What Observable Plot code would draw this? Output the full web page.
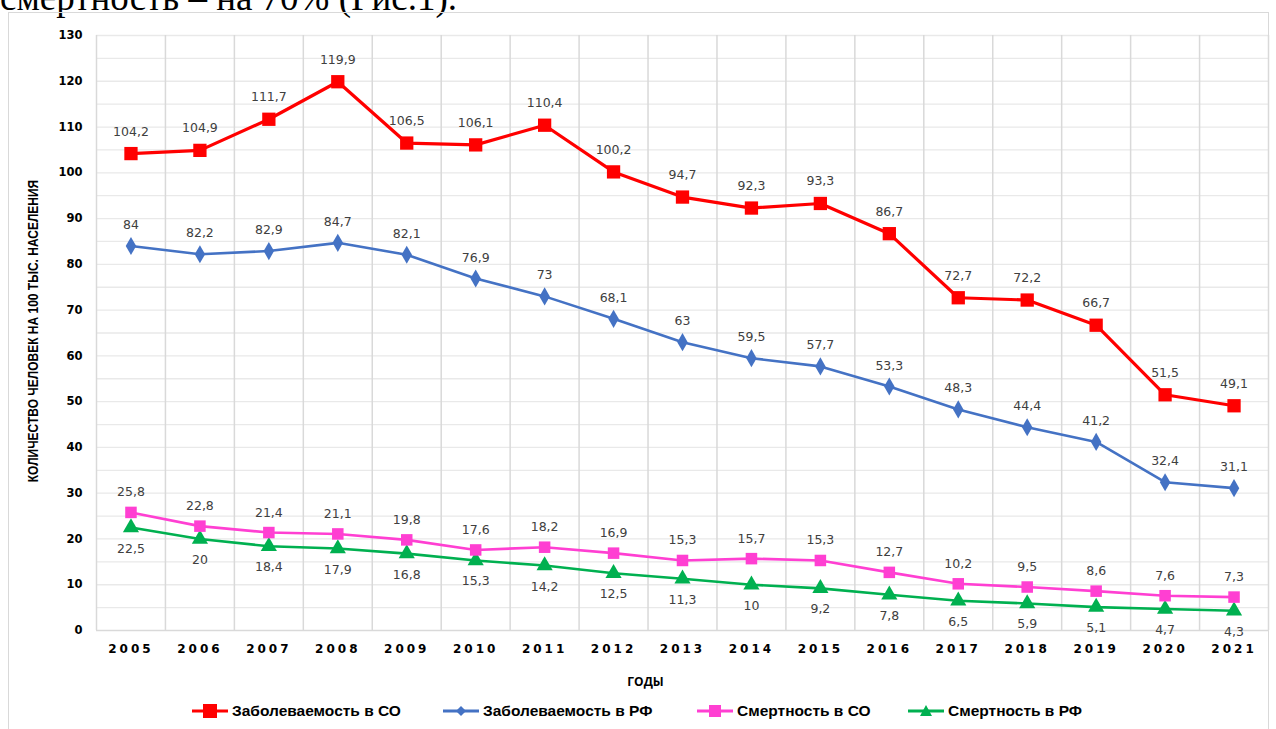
<!DOCTYPE html>
<html>
<head>
<meta charset="utf-8">
<script src="https://cdn.jsdelivr.net/npm/d3@7"></script>
<script src="https://cdn.jsdelivr.net/npm/@observablehq/plot@0.6"></script>
<style>
  html, body { margin: 0; padding: 0; background: #fff; width: 1276px; height: 729px; overflow: hidden; position: relative; }
  #doctext { position: absolute; left: 0; top: -21px; font-family: "Liberation Serif", serif; font-size: 37px; line-height: 37px; color: #000; white-space: nowrap; }
  #frame { position: absolute; left: 8px; top: 12px; width: 1261px; height: 740px; border: 1px solid #d9d9d9; box-sizing: border-box; }
  #chart { position: absolute; left: 0; top: 0; }
  #legend { position: absolute; top: 701px; left: 0; width: 1276px; height: 22px; font-family: "Liberation Sans", sans-serif; font-weight: bold; font-size: 15.5px; color: #000; }
  .item { position: absolute; top: 0; display: flex; align-items: center; height: 20px; }
  .item svg { margin-right: 4px; }
  .xticks text { letter-spacing: 3px; }
</style>
</head>
<body>
<div id="doctext">смертность – на 70% (Рис.1).</div>
<div id="frame"></div>
<div id="chart"></div>
<div id="legend"></div>
<script>
const years = [2005,2006,2007,2008,2009,2010,2011,2012,2013,2014,2015,2016,2017,2018,2019,2020,2021];
const incidenceSO = [104.2,104.9,111.7,119.9,106.5,106.1,110.4,100.2,94.7,92.3,93.3,86.7,72.7,72.2,66.7,51.5,49.1];
const incidenceRF = [84,82.2,82.9,84.7,82.1,76.9,73,68.1,63,59.5,57.7,53.3,48.3,44.4,41.2,32.4,31.1];
const mortalitySO = [25.8,22.8,21.4,21.1,19.8,17.6,18.2,16.9,15.3,15.7,15.3,12.7,10.2,9.5,8.6,7.6,7.3];
const mortalityRF = [22.5,20,18.4,17.9,16.8,15.3,14.2,12.5,11.3,10,9.2,7.8,6.5,5.9,5.1,4.7,4.3];
const seriesNames = ["Заболеваемость в СО","Заболеваемость в РФ","Смертность в СО","Смертность в РФ"];
const seriesColors = ["#ff0000","#4472c4","#ff3fd2","#00b050"];
const yTitle = "КОЛИЧЕСТВО ЧЕЛОВЕК НА 100 ТЫС. НАСЕЛЕНИЯ";
const xTitle = "ГОДЫ";

const fmt = v => String(v).replace(".", ",");
const rows = (vals) => years.map((y, i) => ({year: y, value: vals[i], label: fmt(vals[i])}));
const dSO = rows(incidenceSO), dRF = rows(incidenceRF), mSO = rows(mortalitySO), mRF = rows(mortalityRF);
const bounds = years.slice(0, -1).map(y => y + 0.5);
const labelFont = {fontFamily: "DejaVu Sans, sans-serif", fontSize: 12.5, fill: "#404040", letterSpacing: "0.6px"};

const chart = Plot.plot({
  width: 1276,
  height: 690,
  marginTop: 35,
  marginBottom: 60,
  marginLeft: 96,
  marginRight: 8,
  style: {fontFamily: "DejaVu Sans, sans-serif", background: "transparent", overflow: "visible"},
  x: {type: "linear", domain: [2004.5, 2021.5]},
  y: {domain: [0, 130]},
  marks: [
    Plot.ruleY(d3.range(5, 131, 5), {stroke: "#e9e9e9", strokeWidth: 1.3}),
    Plot.ruleX(bounds, {stroke: "#d9d9d9", strokeWidth: 1.5}),
    Plot.ruleX([2004.5, 2021.5], {stroke: "#d9d9d9", strokeWidth: 1.5}),
    Plot.ruleY([0], {stroke: "#d9d9d9", strokeWidth: 1.5}),
    Plot.axisY({ticks: d3.range(0, 131, 10), tickSize: 0, tickPadding: 14, label: null, fontWeight: "bold", fontSize: 11.5, fill: "#000"}),
    Plot.axisX({ticks: years, tickFormat: d => String(d), tickSize: 0, tickPadding: 14, label: null, fontWeight: "bold", fontSize: 12, fill: "#000", className: "xticks"}),
    Plot.text([yTitle], {frameAnchor: "left", textAnchor: "middle", dx: -63, dy: -2, rotate: -90, text: d => d, fontFamily: "Liberation Sans, sans-serif", fontWeight: "bold", fontSize: 15, fill: "#000", className: "ytitle"}),
    Plot.text([xTitle], {frameAnchor: "bottom", dx: -37, dy: 55, text: d => d, fontFamily: "Open Sans, sans-serif", fontWeight: "bold", fontSize: 12, fill: "#000"}),
    // lines
    Plot.line(mRF, {x: "year", y: "value", stroke: seriesColors[3], strokeWidth: 2.6}),
    Plot.line(mSO, {x: "year", y: "value", stroke: seriesColors[2], strokeWidth: 2.6}),
    Plot.line(dRF, {x: "year", y: "value", stroke: seriesColors[1], strokeWidth: 2.6}),
    Plot.line(dSO, {x: "year", y: "value", stroke: seriesColors[0], strokeWidth: 3.2}),
    // markers
    Plot.dot(mRF, {x: "year", y: "value", symbol: "triangle", r: 6, fill: seriesColors[3], stroke: "none"}),
    Plot.dot(mSO, {x: "year", y: "value", symbol: "square", r: 6.5, fill: seriesColors[2], stroke: "none"}),
    Plot.dot(dRF, {x: "year", y: "value", symbol: "diamond", r: 5.5, fill: seriesColors[1], stroke: "none"}),
    Plot.dot(dSO, {x: "year", y: "value", symbol: "square", r: 7.5, fill: seriesColors[0], stroke: "none"}),
    // labels
    Plot.text(dSO, {x: "year", y: "value", text: "label", dy: -22, ...labelFont}),
    Plot.text(dRF, {x: "year", y: "value", text: "label", dy: -21, ...labelFont}),
    Plot.text(mSO, {x: "year", y: "value", text: "label", dy: -20, ...labelFont}),
    Plot.text(mRF, {x: "year", y: "value", text: "label", dy: 21, ...labelFont})
  ]
});
// condense the y-axis title horizontally along its reading direction
d3.select(chart).selectAll("g.ytitle text").attr("transform", function() {
  return (this.getAttribute("transform") || "") + " scale(0.8,1)";
});
document.getElementById("chart").appendChild(chart);

// legend
const legendLeft = [192, 443, 697, 908];
const symbols = [
  '<rect x="11" y="3" width="14" height="14" fill="C"/>',
  '<path d="M18 5 L23 10 L18 15 L13 10 Z" fill="C"/>',
  '<rect x="12" y="4" width="12" height="12" fill="C"/>',
  '<path d="M18 4 L24 15 L12 15 Z" fill="C"/>'
];
const legend = document.getElementById("legend");
seriesNames.forEach((name, i) => {
  const c = seriesColors[i];
  const item = document.createElement("div");
  item.className = "item";
  item.style.left = legendLeft[i] + "px";
  item.innerHTML = `<svg width="36" height="20"><line x1="0" y1="10" x2="36" y2="10" stroke="${c}" stroke-width="3"/>${symbols[i].replace("C", c)}</svg><span>${name}</span>`;
  legend.appendChild(item);
});
</script>
</body>
</html>
